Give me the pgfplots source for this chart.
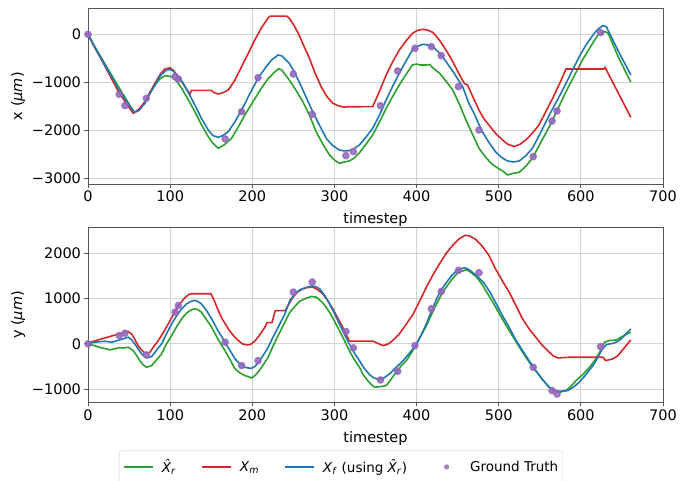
\documentclass[border=0pt]{standalone}
\usepackage{pgfplots}
\pgfplotsset{compat=1.18}
\usepackage{fontspec}
\setmainfont{DejaVu Sans}
\definecolor{cgreen}{HTML}{2CA02C}
\definecolor{cred}{HTML}{D62728}
\definecolor{cblue}{HTML}{1F77B4}
\definecolor{cpurple}{HTML}{9467BD}
\definecolor{spine}{HTML}{555555}
\newcommand{\Xr}{\textit{\^{X}}\textsubscript{\textit{r}}}
\pgfplotsset{
 myax/.style={
  scale only axis, width=575bp,
  xmin=0, xmax=700, xtick={0,100,...,700},
  grid=major, major grid style={line width=0.8bp, draw=black!17},
  axis line style={draw=spine, line width=0.8bp},
  tick style={draw=spine, line width=0.8bp}, tick align=outside, major tick length=3.5bp,
  xtick pos=left, ytick pos=left,
  tick label style={font=\fontsize{14.5bp}{17bp}\selectfont, text=black},
  label style={font=\fontsize{14.5bp}{17bp}\selectfont},
  xlabel style={yshift=-3.5bp},
  /pgf/number format/assume math mode=true,
  /pgf/number format/1000 sep={},
  xlabel={timestep},
  every axis plot/.append style={line width=1.6bp},
 },
 linelegend/.style={legend image code/.code={\path[draw=none, fill=none] (0bp,-4bp) rectangle (38bp,4bp); \draw[line width=1.6bp, draw=#1] (0bp,0bp) -- (29bp,0bp);}},
 dotlegend/.style={legend image code/.code={\path[draw=none, fill=none] (0bp,-4bp) rectangle (38bp,4bp); \fill[draw=none, fill=#1, fill opacity=0.85] (14.5bp,0bp) circle[radius=2.6bp];}},
}
\begin{document}
\begin{tikzpicture}
\path[use as bounding box] (0bp,0bp) rectangle (693bp,-481bp);
% ---------------- top: x ----------------
\begin{axis}[myax, at={(88bp,-184bp)}, anchor=south west, height=175.7bp,
  ymin=-3119, ymax=542, ytick={-3000,-2000,-1000,0},
  yticklabels={−3000,−2000,−1000,0},
  ylabel={x (\textit{μm})}]
\addplot[cgreen] coordinates {
(0,0) (8,-250) (16.6,-500) (27,-800) (37,-1090) (47,-1370) (56.4,-1625) (61,-1600) (67.3,-1472) (74,-1260) (81.5,-1056) (88,-920) (93.7,-861) (101.8,-882) (108,-980) (114,-1125) (122,-1360) (130,-1611) (138,-1880) (146.4,-2132) (152,-2270) (158.6,-2375) (166,-2300) (174.8,-2167) (183,-1930) (191,-1680) (201,-1400) (211,-1125) (219,-930) (227.6,-778) (232,-720) (235.7,-740) (245,-951) (253,-1160) (261.5,-1403) (270,-1700) (277.7,-2028) (286,-2290) (294,-2514) (300,-2620) (306,-2688) (312,-2660) (318,-2639) (324,-2580) (330,-2479) (338,-2300) (346.6,-2097) (355,-1820) (363,-1542) (371,-1290) (379,-1056) (387,-840) (395,-639) (400,-620) (405,-640) (411.5,-639) (416,-630) (420,-700) (428,-812) (436,-980) (444,-1160) (452,-1450) (460,-1780) (468,-2080) (476,-2375) (484,-2560) (492,-2708) (500,-2800) (505,-2850) (510.6,-2930) (517,-2900) (525,-2875) (533,-2750) (541,-2583) (551,-2260) (561.6,-1924) (572,-1550) (582,-1194) (592,-860) (602,-535) (611,-280) (620.8,-14) (629,56) (633,30) (645,-450) (660.8,-1000)
};
\addplot[cred] coordinates {
(0,0) (8,-270) (16.6,-535) (27,-870) (37,-1194) (47,-1450) (55,-1646) (62,-1560) (69.4,-1403) (75,-1220) (81.5,-1021) (88,-830) (93.7,-722) (99.8,-700) (104,-750) (108,-847) (113,-960) (118,-1090) (124,-1250) (126,-1167) (149.7,-1167) (154,-1220) (158.6,-1243) (164,-1220) (170.8,-1160) (179,-950) (187,-674) (195,-400) (203,-118) (211,130) (219.5,347) (222,380) (242,380) (245,333) (251,180) (257,-14) (263,-250) (269.6,-500) (276,-790) (283.8,-1090) (291,-1300) (298,-1437) (305,-1490) (312,-1520) (316,-1510) (346.6,-1507) (355,-1180) (363,-847) (371,-570) (379,-326) (387,-140) (395,21) (401,80) (407.5,104) (413,90) (419.6,42) (426,-80) (431.8,-222) (438,-390) (444,-569) (451,-800) (458,-1020) (462,-1055) (469,-1320) (476,-1580) (482,-1760) (488,-1889) (496,-2060) (504.5,-2201) (511,-2290) (518.8,-2340) (526,-2290) (533,-2201) (541,-2060) (549,-1889) (557,-1620) (565.7,-1333) (574,-1030) (582,-722) (628,-722) (629.5,-690) (660.8,-1729)
};
\addplot[cblue] coordinates {
(0,0) (8,-260) (16.6,-520) (27,-830) (37,-1139) (47,-1400) (56.4,-1625) (62,-1580) (69.4,-1437) (75,-1250) (81.5,-1056) (88,-860) (95.7,-743) (100,-735) (103.8,-764) (110,-880) (116,-1021) (123,-1240) (130,-1472) (138,-1750) (146.4,-1993) (152,-2110) (158.6,-2146) (164,-2110) (170.8,-2028) (179,-1820) (187,-1576) (197,-1240) (207,-917) (215,-720) (223.5,-535) (231.5,-430) (236,-450) (245,-604) (251,-780) (257,-986) (265,-1290) (273.5,-1611) (282,-1900) (290,-2167) (298,-2320) (306,-2410) (312,-2430) (318,-2424) (324,-2380) (330.4,-2306) (338,-2150) (346.6,-1958) (355,-1680) (363,-1368) (371,-1080) (379,-812) (387,-560) (395,-326) (401,-250) (407.5,-208) (413,-220) (419.6,-257) (428,-390) (436,-569) (446,-820) (456,-1090) (464,-1450) (470,-1650) (476,-1880) (480,-2028) (488,-2250) (496,-2444) (503,-2560) (510.6,-2639) (518,-2660) (525,-2639) (533,-2530) (541,-2375) (551,-2050) (561.6,-1680) (572,-1350) (582,-1021) (590,-740) (598,-465) (606,-230) (614.7,-14) (621,110) (627,180) (631,160) (645,-330) (660.8,-847)
};
\addplot[only marks, mark=*, mark size=3bp, draw=none, mark options={draw=cpurple, fill=cpurple, fill opacity=0.85, draw opacity=0.85}] coordinates {
(0,0) (38,-1250) (45,-1486) (71,-1333) (106,-880) (110,-930) (167,-2180) (187,-1611) (207,-903) (250,-826) (273,-1667) (314,-2528) (323,-2444) (356,-1486) (377,-764) (398,-292) (418,-257) (430,-444) (451,-1090) (476,-1993) (542,-2549) (565,-1806) (571,-1597) (624,35)
};
\end{axis}
% ---------------- bottom: y ----------------
\begin{axis}[myax, at={(88bp,-402.7bp)}, anchor=south west, height=175.4bp,
  ymin=-1295, ymax=2566, ytick={-1000,0,1000,2000},
  yticklabels={−1000,0,1000,2000},
  ylabel={y (\textit{μm})},
  legend columns=4, legend cell align=left,
  legend style={at={(0.0539,-0.2737)}, anchor=north west, draw=black!20, rounded corners=2bp,
    font=\fontsize{13.5bp}{16bp}\selectfont, inner xsep=4bp, inner ysep=7bp,
    nodes={inner xsep=0bp},
    /tikz/every even column/.append style={column sep=25bp}}]
\addplot[cgreen, linelegend=cgreen] coordinates {
(0,0) (8,-40) (16.6,-88) (22,-110) (27,-132) (32,-110) (37,-88) (43,-90) (49,-74) (55,-147) (59,-250) (63,-368) (67,-460) (71.4,-515) (77.5,-478) (83,-360) (89.6,-221) (95,-20) (101.8,184) (108,380) (114,551) (120,680) (126,750) (130,772) (134,750) (138,699) (144,540) (150.5,368) (158,110) (166.7,-147) (173,-350) (179,-551) (185,-640) (191,-699) (195,-720) (199,-750) (203,-700) (207,-625) (213,-470) (219.4,-294) (225,-60) (231.5,184) (239.7,478) (245.8,699) (252,830) (258,941) (265,1000) (272,1044) (278,1029) (286,900) (294,699) (300,500) (306,294) (312,80) (318,-147) (324,-340) (330.4,-515) (335,-680) (340.5,-809) (345,-900) (349,-956) (356,-940) (363,-919) (369,-780) (375,-625) (381,-490) (387.6,-368) (394,-190) (400,0) (406,200) (412,404) (418,640) (424.5,882) (430,1080) (436.7,1265) (443,1420) (449,1544) (455,1600) (461,1632) (467,1560) (473,1471) (480,1300) (487,1090) (494,882) (503,590) (512.7,294) (520,80) (529,-184) (537,-400) (545,-588) (553,-780) (561.6,-956) (568,-1030) (573.9,-1066) (582,-1029) (588,-930) (594,-809) (602,-680) (610.6,-515) (617,-360) (622.9,-184) (626,-60) (629,37) (635,74) (643.3,88) (650,160) (660.8,257)
};
\addlegendentry{\Xr}
\addplot[cred, linelegend=cred] coordinates {
(0,22) (16.6,110) (30,180) (49,272) (53,220) (57,100) (61,-37) (65,-130) (69.4,-206) (72,-210) (75.4,-184) (80,-60) (85.6,74) (92,260) (97.8,441) (104,650) (110,846) (118,1015) (122,1080) (126,1103) (149.7,1103) (154,940) (158.6,735) (164,530) (170.8,331) (177,180) (183,74) (188,0) (193,-22) (196,-20) (199,0) (203,60) (207,147) (211,250) (215.4,368) (218,469) (224,469) (228,733) (240,733) (249,1015) (255,1140) (261,1206) (267,1240) (273.5,1250) (279,1200) (285.7,1103) (292,950) (298,772) (304,570) (310,368) (314,210) (318,74) (320,59) (347,59) (353,10) (359,-37) (363,-20) (367,15) (373,110) (379,221) (387,420) (396,662) (404,950) (412,1250) (420,1520) (428,1765) (436,1990) (444,2169) (451,2300) (459,2390) (464,2380) (472,2300) (480,2150) (488,1950) (496,1654) (504,1400) (512.7,1140) (521,840) (529,551) (537,330) (545,147) (553,-30) (561.6,-184) (566,-260) (571.8,-309) (586,-294) (627,-294) (630,-368) (639,-331) (645,-260) (660.8,88)
};
\addlegendentry{\textit{X}\textsubscript{\textit{m}}}
\addplot[cblue, linelegend=cblue] coordinates {
(0,15) (10,40) (20.7,59) (29,37) (39,90) (49,147) (53,90) (57,0) (61,-110) (65.3,-221) (71.4,-309) (77.5,-279) (83,-150) (89.6,0) (95,200) (101.8,441) (108,620) (114,772) (120,880) (126,941) (130,956) (134,930) (138,882) (144,740) (150.5,551) (158,300) (166.7,37) (173,-150) (179,-331) (185,-440) (191,-515) (195,-530) (199,-537) (203,-500) (207,-426) (213,-260) (219.4,-74) (225,140) (231.5,368) (239.7,662) (245.8,960) (252,1100) (258,1191) (265,1240) (272,1272) (277,1260) (282,1213) (288,1070) (294,882) (300,670) (306,441) (312,220) (318,0) (324,-190) (330.4,-368) (336,-530) (342.6,-676) (348,-750) (355,-787) (361,-740) (367,-662) (375,-520) (383.7,-368) (392,-190) (400,0) (406,210) (412,441) (418,720) (424.5,993) (430,1190) (436.7,1360) (443,1510) (449,1618) (455,1660) (459,1676) (465,1620) (471,1530) (477,1434) (482,1340) (489,1150) (496,919) (504,640) (512.7,368) (520,110) (529,-147) (537,-370) (545,-588) (553,-780) (561.6,-956) (568,-1020) (573.9,-1044) (584,-1029) (591,-950) (598,-846) (606,-680) (614.7,-478) (620,-320) (625,-147) (631,-15) (641,20) (648,90) (660.8,331)
};
\addlegendentry{\textit{X}\textsubscript{\textit{f}} (using \Xr)}
\addplot[only marks, mark=*, mark size=3bp, draw=none, dotlegend=cpurple, mark options={draw=cpurple, fill=cpurple, fill opacity=0.85, draw opacity=0.85}] coordinates {
(0,0) (38,184) (45,235) (71,-243) (106,699) (110,846) (167,37) (187,-478) (207,-368) (250,1140) (273,1360) (314,272) (323,-88) (356,-794) (377,-603) (398,-37) (418,772) (430,1154) (451,1618) (476,1566) (542,-515) (565,-1029) (571,-1103) (624,-59)
};
\addlegendentry{Ground Truth}
\end{axis}
\end{tikzpicture}
\end{document}
